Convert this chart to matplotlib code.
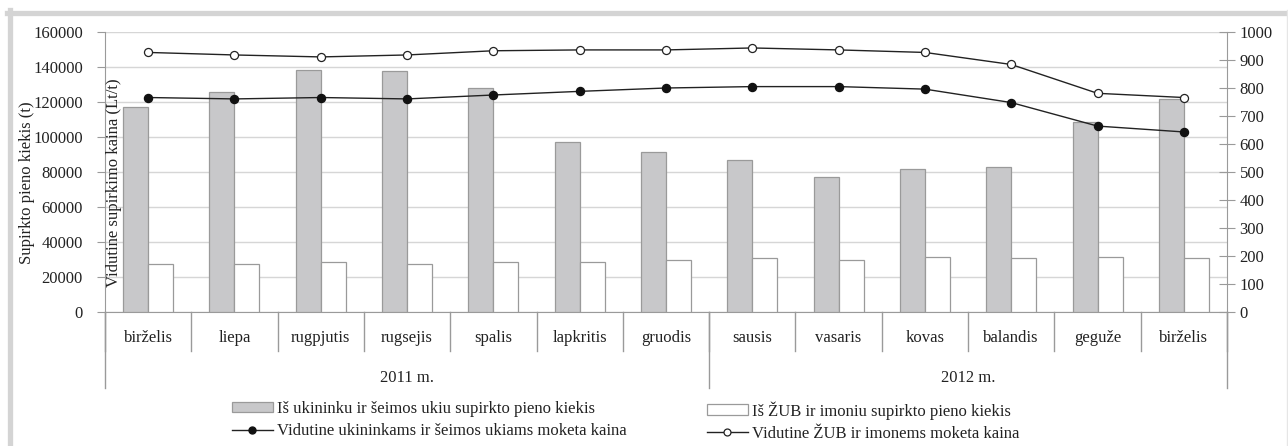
import matplotlib
matplotlib.use("Agg")
import matplotlib.pyplot as plt
from matplotlib.lines import Line2D
from matplotlib.patches import Patch
import numpy as np

plt.rcParams['font.family'] = ['Liberation Serif', 'DejaVu Serif']

months = ["birželis", "liepa", "rugpjutis", "rugsejis", "spalis", "lapkritis", "gruodis",
          "sausis", "vasaris", "kovas", "balandis", "geguže", "birželis"]
years = ["2011 m.", "2012 m."]
year_counts = [7, 6]

farm_qty = [117000, 125500, 138100, 137500, 128200, 97300, 91600,
            86700, 77000, 81700, 82700, 108400, 121900]
coop_qty = [27200, 27200, 28600, 27200, 28400, 28400, 29900,
            30700, 29900, 31400, 30700, 31400, 30700]
farm_price = [766, 761, 766, 761, 775, 788, 800, 805, 805, 796, 748, 664, 643]
coop_price = [927, 918, 911, 918, 933, 936, 936, 943, 936, 927, 884, 781, 766]

lbl_farm_qty = "Iš ukininku ir šeimos ukiu supirkto pieno kiekis"
lbl_coop_qty = "Iš ŽUB ir imoniu supirkto pieno kiekis"
lbl_farm_price = "Vidutine ukininkams ir šeimos ukiams moketa kaina"
lbl_coop_price = "Vidutine ŽUB ir imonems moketa kaina"

W, H = 1288, 446
fig = plt.figure(figsize=(W / 100, H / 100), dpi=100)
ax = fig.add_axes([105 / W, 1 - 312 / H, (1227 - 105) / W, 280 / H])
ax2 = ax.twinx()

axis_col = "#9a9a9a"
grid_col = "#d6d6d6"
fs = 12

x = np.arange(len(months))
bw = 0.29
ax.bar(x - bw / 2, farm_qty, bw, color="#c8c8ca", edgecolor="#9a9a9a", linewidth=0.9, zorder=3)
ax.bar(x + bw / 2, coop_qty, bw, color="white", edgecolor="#9a9a9a", linewidth=0.9, zorder=3)

ax.set_xlim(-0.5, len(months) - 0.5)
ax.set_ylim(0, 160000)
ax.set_yticks(np.arange(0, 160001, 20000))
ax.yaxis.grid(True, color=grid_col, linewidth=1.0, zorder=0)
ax.set_axisbelow(True)
ax.set_xticks([])
for s in ["top"]:
    ax.spines[s].set_visible(False)
    ax2.spines[s].set_visible(False)
ax.spines["left"].set_color(axis_col)
ax.spines["bottom"].set_color(axis_col)
ax.spines["right"].set_visible(False)
ax2.spines["left"].set_visible(False)
ax2.spines["bottom"].set_visible(False)
ax2.spines["right"].set_color(axis_col)
ax.tick_params(axis="y", direction="out", length=6, color=axis_col, labelsize=fs, pad=10, labelcolor="#222222")

ax2.plot(x, coop_price, color="#222222", linewidth=1.0, marker="o", markersize=5.8,
         markerfacecolor="white", markeredgecolor="#222222", markeredgewidth=0.9, zorder=5)
ax2.plot(x, farm_price, color="#222222", linewidth=1.0, marker="o", markersize=5.8,
         markerfacecolor="#111111", markeredgecolor="#111111", zorder=5)
ax2.set_ylim(0, 1000)
ax2.set_yticks(np.arange(0, 1001, 100))
ax2.tick_params(axis="y", direction="inout", length=12, color=axis_col, labelsize=fs, pad=3, labelcolor="#222222")
ax.set_zorder(ax2.get_zorder() - 1)
ax2.patch.set_visible(False)

# category labels and separators
trans = ax.get_xaxis_transform()
cat_bottom = -(351 - 312) / 280
year_bottom = -(388 - 312) / 280
for i, m in enumerate(months):
    ax.text(i, -(338 - 312) / 280, m, transform=trans, ha="center", va="center", fontsize=fs, color="#222222")
for i in range(len(months) + 1):
    ax.add_line(Line2D([i - 0.5, i - 0.5], [0, cat_bottom], transform=trans, color=axis_col,
                       linewidth=1.0, clip_on=False))
start = 0
bounds = [0]
for yl, n in zip(years, year_counts):
    ax.text(start + (n - 1) / 2, -(378 - 312) / 280, yl, transform=trans, ha="center", va="center",
            fontsize=fs, color="#222222")
    start += n
    bounds.append(start)
for b in bounds:
    ax.add_line(Line2D([b - 0.5, b - 0.5], [0, year_bottom], transform=trans, color=axis_col,
                       linewidth=1.0, clip_on=False))

# axis titles
fig.text(27 / W, 1 - 183 / H, "Supirkto pieno kiekis (t)", rotation=90, ha="center", va="center",
         fontsize=fs, color="#222222")
fig.text(114 / W, 1 - 183 / H, "Vidutine supirkimo kaina (Lt/t)", rotation=90, ha="center", va="center",
         fontsize=fs, color="#222222")

# legends
h1 = [Patch(facecolor="#c8c8ca", edgecolor="#9a9a9a", linewidth=0.9),
      Line2D([], [], color="#222222", linewidth=1.0, marker="o", markersize=5,
             markerfacecolor="#111111", markeredgecolor="#111111")]
h2 = [Patch(facecolor="white", edgecolor="#9a9a9a", linewidth=0.9),
      Line2D([], [], color="#222222", linewidth=1.0, marker="o", markersize=5,
             markerfacecolor="white", markeredgecolor="#222222", markeredgewidth=0.9)]
common = dict(frameon=False, fontsize=fs, handlelength=2.45, handleheight=0.6, handletextpad=0.25,
              labelspacing=0.38, borderpad=0, borderaxespad=0, loc="upper left", labelcolor="#222222")
fig.legend(h1, [lbl_farm_qty, lbl_farm_price], bbox_to_anchor=(232 / W, 1 - 401 / H), **common)
fig.legend(h2, [lbl_coop_qty, lbl_coop_price], bbox_to_anchor=(707 / W, 1 - 401 / H), **common)

# outer frame
frame_col = "#d4d4d4"
fig.add_artist(Line2D([7 / W, 1], [1 - 12.5 / H, 1 - 12.5 / H], transform=fig.transFigure,
                      color=frame_col, linewidth=3.8))
fig.add_artist(Line2D([9.5 / W, 9.5 / W], [0, 1 - 10 / H], transform=fig.transFigure,
                      color=frame_col, linewidth=3.8))
fig.add_artist(Line2D([1287 / W, 1287 / W], [0, 1 - 10 / H], transform=fig.transFigure,
                      color="#e6e6e6", linewidth=1.0))

fig.savefig("out.png", dpi=100)
